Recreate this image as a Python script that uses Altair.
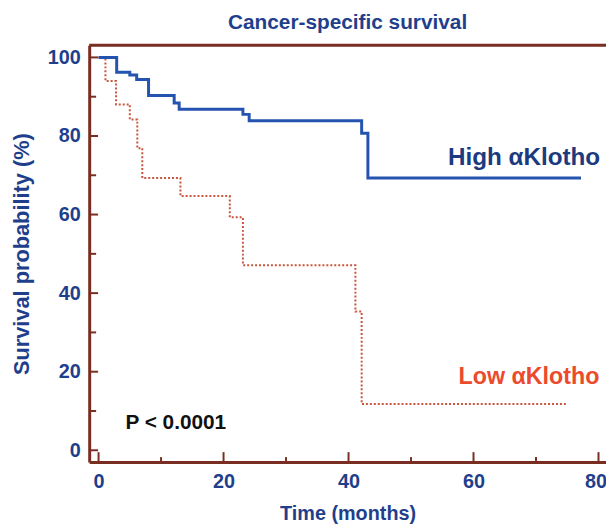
import altair as alt
import pandas as pd

# ---- data ----
high_t = [0, 2.9, 5.0, 6.1, 8.0, 12.1, 12.9, 23.1, 24.1, 42.1, 43.1, 77.2]
high_s = [100, 96.2, 95.5, 94.4, 90.3, 88.4, 86.8, 85.5, 83.9, 80.7, 69.3, 69.3]
low_t = [0, 1.1, 2.8, 5.0, 6.2, 7.0, 13.1, 21.0, 23.1, 41.1, 42.1, 75.1]
low_s = [100, 94.0, 88.0, 84.2, 76.9, 69.3, 64.7, 59.3, 47.1, 35.3, 11.8, 11.8]

x_major = [0, 20, 40, 60, 80]
x_minor = [10, 30, 50, 70]
y_major = [0, 20, 40, 60, 80, 100]
y_minor = [10, 30, 50, 70, 90]

labels = ["High \u03b1Klotho", "Low \u03b1Klotho", "P < 0.0001"]
label_t = [55.9, 57.6, 4.3]
label_s = [74.5, 18.6, 6.8]
label_col = ["#1c3a80", "#ec4a2c", "#111111"]
label_size = [24.5, 23.5, 21]

W, H = 522, 421
FONT = "Liberation Sans"
BLUE = "#1f3f8c"
BROWN = "#7a2e22"

xs = alt.Scale(domain=[-1.5, 81.2], nice=False, zero=False)
ys = alt.Scale(domain=[-3, 103.1], nice=False, zero=False)

high = pd.DataFrame({"t": high_t, "s": high_s})
low = pd.DataFrame({"t": low_t, "s": low_s})

xaxis = alt.Axis(values=x_major, ticks=False, tickSize=0, grid=False, domainColor=BROWN,
                 domainWidth=3, labelFont=FONT, labelFontSize=20, labelFontWeight="bold",
                 labelColor=BLUE, labelPadding=10, labelFlush=9, labelFlushOffset=8,
                 title="Time (months)", titleFont=FONT,
                 titleFontSize=20, titleFontWeight="bold", titleColor=BLUE, titlePadding=12)
yaxis = alt.Axis(values=y_major, ticks=False, tickSize=0, grid=False, domainColor=BROWN,
                 domainWidth=3, labelFont=FONT, labelFontSize=20, labelFontWeight="bold",
                 labelColor=BLUE, labelPadding=9, labelFlush=False,
                 title="Survival probability (%)", titleFont=FONT,
                 titleFontSize=22, titleFontWeight="bold", titleColor=BLUE, titlePadding=14)

low_line = alt.Chart(low).mark_line(interpolate="step-after", color="#c8553d",
                                    strokeWidth=2, strokeDash=[2, 2]).encode(
    x=alt.X("t:Q", scale=xs, axis=xaxis),
    y=alt.Y("s:Q", scale=ys, axis=yaxis),
)
high_line = alt.Chart(high).mark_line(interpolate="step-after", color="#2453b0",
                                      strokeWidth=3).encode(
    x=alt.X("t:Q", scale=xs),
    y=alt.Y("s:Q", scale=ys),
)

x_ticks_major = alt.Chart(pd.DataFrame({"v": x_major})).mark_rule(color=BROWN, strokeWidth=2).encode(
    x=alt.X("v:Q", scale=xs), y=alt.value(H), y2=alt.value(H - 10))
x_ticks_minor = alt.Chart(pd.DataFrame({"v": x_minor})).mark_rule(color=BROWN, strokeWidth=2).encode(
    x=alt.X("v:Q", scale=xs), y=alt.value(H), y2=alt.value(H - 5))
y_ticks_major = alt.Chart(pd.DataFrame({"v": y_major})).mark_rule(color=BROWN, strokeWidth=2).encode(
    y=alt.Y("v:Q", scale=ys), x=alt.value(0), x2=alt.value(9))
y_ticks_minor = alt.Chart(pd.DataFrame({"v": y_minor})).mark_rule(color=BROWN, strokeWidth=2).encode(
    y=alt.Y("v:Q", scale=ys), x=alt.value(0), x2=alt.value(7))

top_border = alt.Chart(pd.DataFrame({"a": [0]})).mark_rule(color=BROWN, strokeWidth=3).encode(
    x=alt.value(0), x2=alt.value(W), y=alt.value(0))

ann = pd.DataFrame({"lab": labels, "t": label_t, "s": label_s, "c": label_col, "fs": label_size})
texts = alt.Chart(ann).mark_text(align="left", baseline="middle", font=FONT,
                                 fontWeight="bold").encode(
    x=alt.X("t:Q", scale=xs), y=alt.Y("s:Q", scale=ys), text="lab:N",
    color=alt.Color("c:N", scale=None),
    size=alt.Size("fs:Q", scale=None),
)

chart = alt.layer(
    low_line, high_line, x_ticks_major, x_ticks_minor, y_ticks_major, y_ticks_minor,
    top_border, texts,
).properties(
    width=W, height=H,
    title=alt.TitleParams("Cancer-specific survival", font=FONT, fontSize=21,
                          fontWeight="bold", color=BLUE, anchor="middle", offset=11),
    autosize=alt.AutoSizeParams(type="none"),
    padding={"left": 82, "top": 35, "right": 0, "bottom": 64},
).configure_view(stroke="#dcbcb4", strokeWidth=1)

chart.save("out.html", embed_options={"renderer": "svg", "actions": False})
